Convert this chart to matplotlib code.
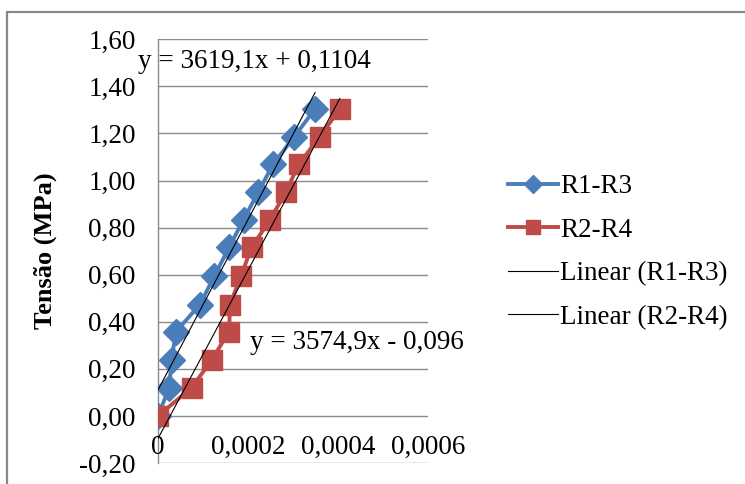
import matplotlib.pyplot as plt
from matplotlib.ticker import FuncFormatter, FixedLocator
from matplotlib.patches import Rectangle
import numpy as np

plt.rcParams['font.family'] = ['Liberation Serif', 'DejaVu Serif']

# deformation (x) and stress in MPa (y)
x_r13 = [0.0, 0.000025, 0.000030, 0.000040, 0.000093, 0.000125, 0.000158,
         0.000190, 0.000223, 0.000256, 0.000303, 0.000349]
y_r13 = [0.0, 0.12, 0.237, 0.358, 0.473, 0.593, 0.716, 0.834, 0.951, 1.07, 1.187, 1.304]

x_r24 = [0.0, 0.000075, 0.000119, 0.000158, 0.000160, 0.000184, 0.000208,
         0.000249, 0.000284, 0.000313, 0.000360, 0.000404]
y_r24 = [0.0, 0.12, 0.237, 0.358, 0.473, 0.593, 0.716, 0.834, 0.951, 1.07, 1.187, 1.304]

# trendline coefficients shown on the chart
fit_r13 = (3619.1, 0.1104)
fit_r24 = (3574.9, -0.096)

y_ticks = [-0.2, 0.0, 0.2, 0.4, 0.6, 0.8, 1.0, 1.2, 1.4, 1.6]
x_ticks = [0.0, 0.0002, 0.0004, 0.0006]

blue = '#4a7ebb'
red = '#be4b48'
grid_c = '#8c8c8c'
fs = 19.5

fig = plt.figure(figsize=(7.45, 4.84), dpi=100)
ax = fig.add_axes([158/745, 21/484, 270/745, 423.7/484])

# outer chart border (only left and top visible in the crop)
fig.patches.append(Rectangle((7/745, -0.1), 1.2, (484-12)/484 + 0.1,
                             transform=fig.transFigure, fill=False,
                             edgecolor='#888888', linewidth=1.6))

for v in y_ticks:
    ax.axhline(v, color=grid_c, linewidth=1.0, zorder=1)

ax.plot(x_r13, y_r13, color=blue, linewidth=2.8, marker='D', markersize=13,
        label='R1-R3', zorder=3)
ax.plot(x_r24, y_r24, color=red, linewidth=2.8, marker='s', markersize=14.5,
        label='R2-R4', zorder=3)

xx = np.array([0.0, max(x_r13)])
ax.plot(xx, fit_r13[0]*xx + fit_r13[1], color='black', linewidth=0.8,
        label='Linear (R1-R3)', zorder=4)
xx = np.array([0.0, max(x_r24)])
ax.plot(xx, fit_r24[0]*xx + fit_r24[1], color='black', linewidth=0.8,
        label='Linear (R2-R4)', zorder=4)

ax.set_xlim(0, 0.0006)
ax.set_ylim(-0.2, 1.6)
for s in ['top', 'right', 'bottom']:
    ax.spines[s].set_visible(False)
ax.spines['left'].set_color(grid_c)
ax.spines['left'].set_linewidth(1.0)

ax.yaxis.set_major_locator(FixedLocator(y_ticks))
ax.yaxis.set_major_formatter(FuncFormatter(lambda v, p: f'{v:.2f}'.replace('.', ',')))
ax.tick_params(axis='y', length=0, pad=16, labelsize=fs)

# x labels sit just under the y=0 line, as in the spreadsheet chart
ax.set_xticks([])
for v in x_ticks:
    lab = '0' if v == 0 else f'{v:.4f}'.replace('.', ',')
    ax.text(v, -0.133, lab, ha='center', va='center', fontsize=fs, clip_on=False)

ax.set_ylabel('Tensão (MPa)', fontsize=19, fontweight='bold')
ax.yaxis.set_label_coords(-0.374, 0.5)

ax.text(-0.000045, 1.505, 'y = 3619,1x + 0,1104', fontsize=fs, va='center', zorder=5)
ax.text(0.000205, 0.31, 'y = 3574,9x - 0,096', fontsize=fs, va='center', zorder=5)

ax.legend(loc='center left', bbox_to_anchor=(497/745, 232/484),
          bbox_transform=fig.transFigure, frameon=False, fontsize=fs,
          handlelength=1.85, handletextpad=0.08, labelspacing=0.68,
          borderaxespad=0, markerscale=0.7)

fig.savefig('out.png', dpi=100)
